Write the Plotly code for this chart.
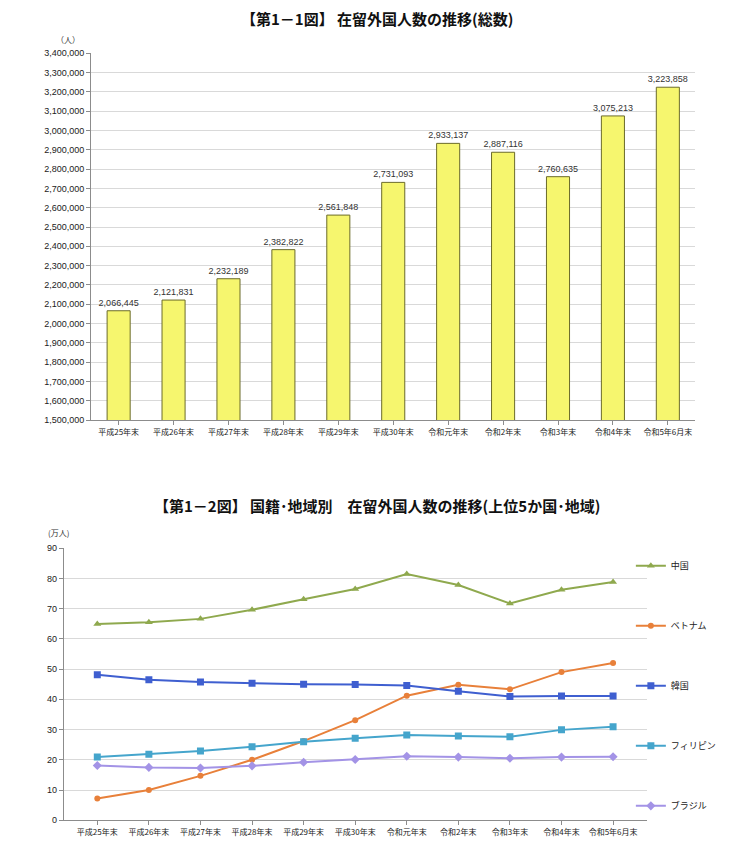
import plotly.graph_objects as go

# ---- data ----
bar_categories = ["平成25年末", "平成26年末", "平成27年末", "平成28年末", "平成29年末", "平成30年末",
                  "令和元年末", "令和2年末", "令和3年末", "令和4年末", "令和5年6月末"]
total_residents = [2066445, 2121831, 2232189, 2382822, 2561848, 2731093,
                   2933137, 2887116, 2760635, 3075213, 3223858]

line_categories = bar_categories
china = [64.9, 65.5, 66.6, 69.6, 73.1, 76.5, 81.4, 77.8, 71.7, 76.2, 78.8]
vietnam = [7.2, 10.0, 14.7, 20.0, 26.2, 33.1, 41.2, 44.8, 43.3, 49.0, 52.0]
korea = [48.1, 46.5, 45.7, 45.3, 45.0, 44.9, 44.6, 42.7, 40.9, 41.1, 41.1]
philippines = [20.9, 21.8, 22.9, 24.3, 26.0, 27.1, 28.2, 27.9, 27.6, 29.9, 30.9]
brazil = [18.1, 17.5, 17.3, 18.0, 19.2, 20.1, 21.2, 20.9, 20.5, 20.9, 21.0]

y1_ticks = list(range(1500000, 3400001, 100000))
y2_ticks = list(range(0, 91, 10))

FONT = "Noto Sans CJK JP"
NUMFONT = "Liberation Sans"

fig = go.Figure()

fig.add_trace(go.Bar(
    x=bar_categories, y=total_residents,
    marker=dict(color="#F6F66E", line=dict(color="#6B6B2A", width=1)),
    width=0.42,
    text=[f"{v:,}" for v in total_residents],
    textposition="outside", cliponaxis=False, constraintext="none", textangle=0,
    textfont=dict(size=9, color="#333333", family=NUMFONT),
    xaxis="x", yaxis="y", showlegend=False,
))

series = [
    ("中国", china, "#8FA94E", "triangle-up", 7),
    ("ベトナム", vietnam, "#E8803A", "circle", 6),
    ("韓国", korea, "#3F5FD0", "square", 7),
    ("フィリピン", philippines, "#45A5CC", "square", 7),
    ("ブラジル", brazil, "#A393E6", "diamond", 7),
]
for i, (name, vals, col, sym, sz) in enumerate(series):
    fig.add_trace(go.Scatter(
        x=line_categories, y=vals, name=name, mode="lines+markers",
        line=dict(color=col, width=2),
        marker=dict(color=col, symbol=sym, size=sz),
        xaxis="x2", yaxis="y2", legendgroup=f"g{i}",
    ))

axis_common = dict(showline=True, linecolor="#8C8C8C", linewidth=1,
                   ticks="outside", tickcolor="#8C8C8C", ticklen=4)

fig.update_layout(
    width=738, height=844,
    margin=dict(l=0, r=0, t=0, b=0),
    paper_bgcolor="white", plot_bgcolor="white",
    font=dict(family=FONT, color="#222222"),
    bargap=0.5,
    xaxis=dict(domain=[0.1127, 0.9313], anchor="y", type="category",
               tickfont=dict(size=8, family=FONT), **axis_common),
    yaxis=dict(domain=[0.5118, 0.9518], anchor="x", range=[1500000, 3400000],
               tickvals=y1_ticks, tickformat=",d", tickfont=dict(size=9, family=NUMFONT),
               showgrid=True, gridcolor="#D9D9D9", gridwidth=1, zeroline=False, **axis_common),
    xaxis2=dict(domain=[0.0756, 0.8653], anchor="y2", type="category",
                tickfont=dict(size=8, family=FONT), **axis_common),
    yaxis2=dict(domain=[0.0320, 0.3584], anchor="x2", range=[0, 90],
                tickvals=y2_ticks, tickfont=dict(size=9, family=NUMFONT),
                showgrid=True, gridcolor="#D9D9D9", gridwidth=1, zeroline=False, **axis_common),
    legend=dict(x=0.844, y=0.3545, xanchor="left", yanchor="top",
                traceorder="grouped", tracegroupgap=41,
                font=dict(size=9, family=FONT), itemwidth=30,
                bgcolor="rgba(0,0,0,0)"),
    annotations=[
        dict(text="<b>【第1－1図】 在留外国人数の推移(総数)</b>", xref="paper", yref="paper",
             x=0.5, y=0.9935, xanchor="center", yanchor="middle",
             showarrow=False, font=dict(size=15, family=FONT, color="#111111")),
        dict(text="（人）", xref="paper", yref="paper",
             x=0.0812, y=0.9687, xanchor="center", yanchor="middle",
             showarrow=False, font=dict(size=8, family=FONT, color="#333333")),
        dict(text="<b>【第1－2図】 国籍･地域別　在留外国人数の推移(上位5か国･地域)</b>", xref="paper", yref="paper",
             x=0.5, y=0.4092, xanchor="center", yanchor="middle",
             showarrow=False, font=dict(size=15, family=FONT, color="#111111")),
        dict(text="(万人)", xref="paper", yref="paper",
             x=0.0688, y=0.3768, xanchor="center", yanchor="middle",
             showarrow=False, font=dict(size=8, family=FONT, color="#333333")),
    ],
)

fig.write_html("out.html")
